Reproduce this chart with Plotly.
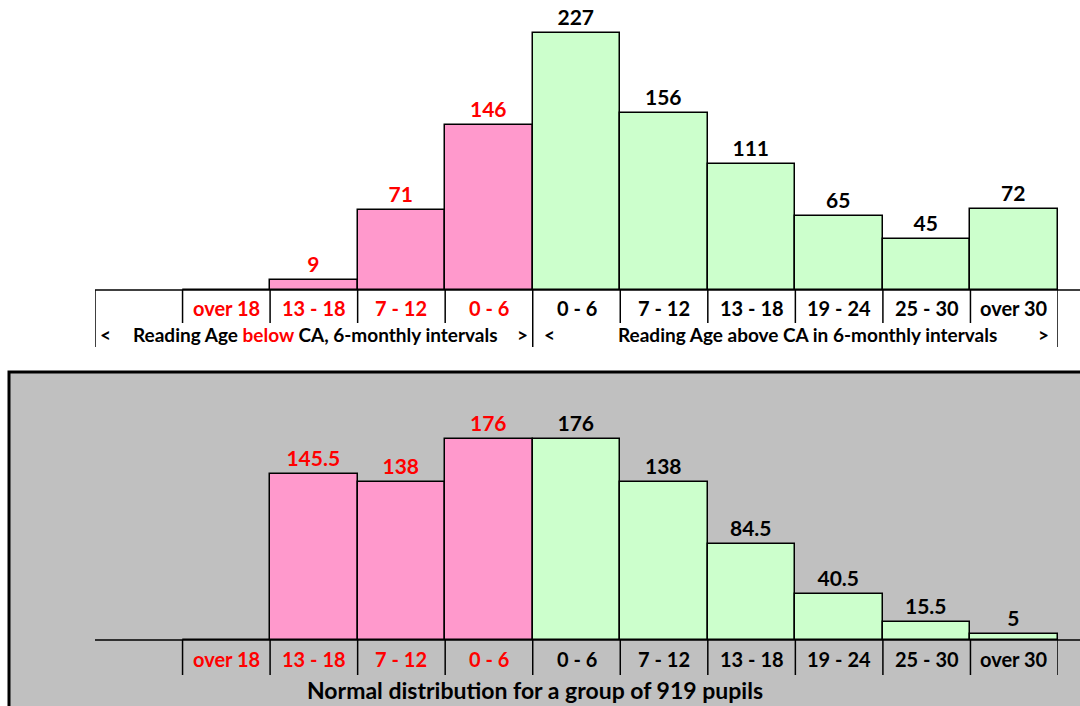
import plotly.graph_objects as go

# ---- data ----
categories = ["", "over 18", "13 - 18", "7 - 12", "0 - 6", "0 - 6",
              "7 - 12", "13 - 18", "19 - 24", "25 - 30", "over 30"]
side = ["", "below", "below", "below", "below", "above",
        "above", "above", "above", "above", "above"]
actual_counts = [None, 0, 9, 71, 146, 227, 156, 111, 65, 45, 72]
normal_counts = [None, 0, 145.5, 138, 176, 176, 138, 84.5, 40.5, 15.5, 5]

below_text = "Reading Age <span style='color:#ff0000'>below</span> CA, 6-monthly intervals"
above_text = "Reading Age above CA in 6-monthly intervals"
bottom_title = "Normal distribution for a group of 919 pupils"

W, H = 1080, 706
FONT = "Lato"
PINK, GREEN, RED = "#ff99cc", "#ccffcc", "#ff0000"

xs = list(range(len(categories)))
fills = [PINK if s == "below" else GREEN for s in side]
tcols = [RED if s == "below" else "black" for s in side]


def labels(vals):
    return ["" if (v is None or v == 0) else f"{v:g}" for v in vals]


fig = go.Figure()
for vals, xa, ya in [(actual_counts, "x", "y"), (normal_counts, "x2", "y2")]:
    fig.add_trace(go.Bar(
        x=xs, y=vals, width=1.0, xaxis=xa, yaxis=ya,
        marker=dict(color=fills, line=dict(color="black", width=1.5)),
        text=labels(vals), textposition="outside", cliponaxis=False,
        textfont=dict(family=FONT, size=21, color=tcols, weight="bold"),
        hoverinfo="skip", showlegend=False,
    ))

px_x = lambda p: p / W
px_y = lambda p: 1 - p / H

xdom = [px_x(95), px_x(1058)]
top_base, top_top = 290, 0
bot_base, bot_top = 640, 372
fig.update_layout(
    width=W, height=H, margin=dict(l=0, r=0, t=0, b=0),
    paper_bgcolor="white", plot_bgcolor="rgba(0,0,0,0)",
    xaxis=dict(domain=xdom, range=[-0.5, 10.5], visible=False, fixedrange=True),
    yaxis=dict(domain=[px_y(top_base), px_y(top_top)], range=[0, 290 / 1.132],
               visible=False),
    xaxis2=dict(domain=xdom, range=[-0.5, 10.5], visible=False, anchor="y2"),
    yaxis2=dict(domain=[px_y(bot_base), px_y(bot_top)], range=[0, 268 / 1.142],
                visible=False, anchor="x2"),
    bargap=0,
)

shapes = []
# grey panel behind the lower chart
shapes.append(dict(type="rect", xref="paper", yref="paper", layer="below",
                   x0=px_x(9), x1=1.01, y0=-0.01, y1=px_y(372),
                   fillcolor="#c0c0c0", line=dict(color="black", width=3)))
# baselines
for yb in (top_base, bot_base):
    shapes.append(dict(type="line", xref="paper", yref="paper",
                       x0=px_x(95), x1=1.0, y0=px_y(yb), y1=px_y(yb),
                       line=dict(color="black", width=1.5)))
# top separators
for i in range(len(categories) + 1):
    b = i - 0.5
    long_line = i in (0, 5, 11)
    shapes.append(dict(type="line", xref="x", yref="paper", x0=b, x1=b,
                       y0=px_y(top_base), y1=px_y(347 if long_line else 323),
                       line=dict(color="black", width=1.5)))
# bottom separators
for i in range(1, len(categories) + 1):
    b = i - 0.5
    shapes.append(dict(type="line", xref="x2", yref="paper", x0=b, x1=b,
                       y0=px_y(bot_base), y1=px_y(675),
                       line=dict(color="black", width=1.5)))

ann = []
for i, (c, s) in enumerate(zip(categories, side)):
    if not c:
        continue
    col = RED if s == "below" else "black"
    for xr, yp in (("x", 308), ("x2", 659)):
        ann.append(dict(x=i, xref=xr, y=px_y(yp), yref="paper", text=c,
                        showarrow=False, yanchor="middle", xanchor="center",
                        font=dict(family=FONT, size=20, color=col, weight="bold")))

sub_font = dict(family=FONT, size=19, color="black", weight="bold")
subs = [
    dict(x=px_x(315), y=px_y(334), text=below_text),
    dict(x=px_x(807), y=px_y(334), text=above_text),
    dict(x=px_x(105), y=px_y(334), text="&lt;"),
    dict(x=px_x(522), y=px_y(334), text="&gt;"),
    dict(x=px_x(549), y=px_y(334), text="&lt;"),
    dict(x=px_x(1043), y=px_y(334), text="&gt;"),
]
for a in subs:
    a.update(xref="paper", yref="paper", showarrow=False, yanchor="middle",
             xanchor="center", font=sub_font)
ann += subs
ann.append(dict(x=px_x(535), y=px_y(690), xref="paper", yref="paper",
                text=bottom_title, showarrow=False, yanchor="middle",
                xanchor="center",
                font=dict(family=FONT, size=23, color="black", weight="bold")))

fig.update_layout(shapes=shapes, annotations=ann)
fig.write_html("out.html")
